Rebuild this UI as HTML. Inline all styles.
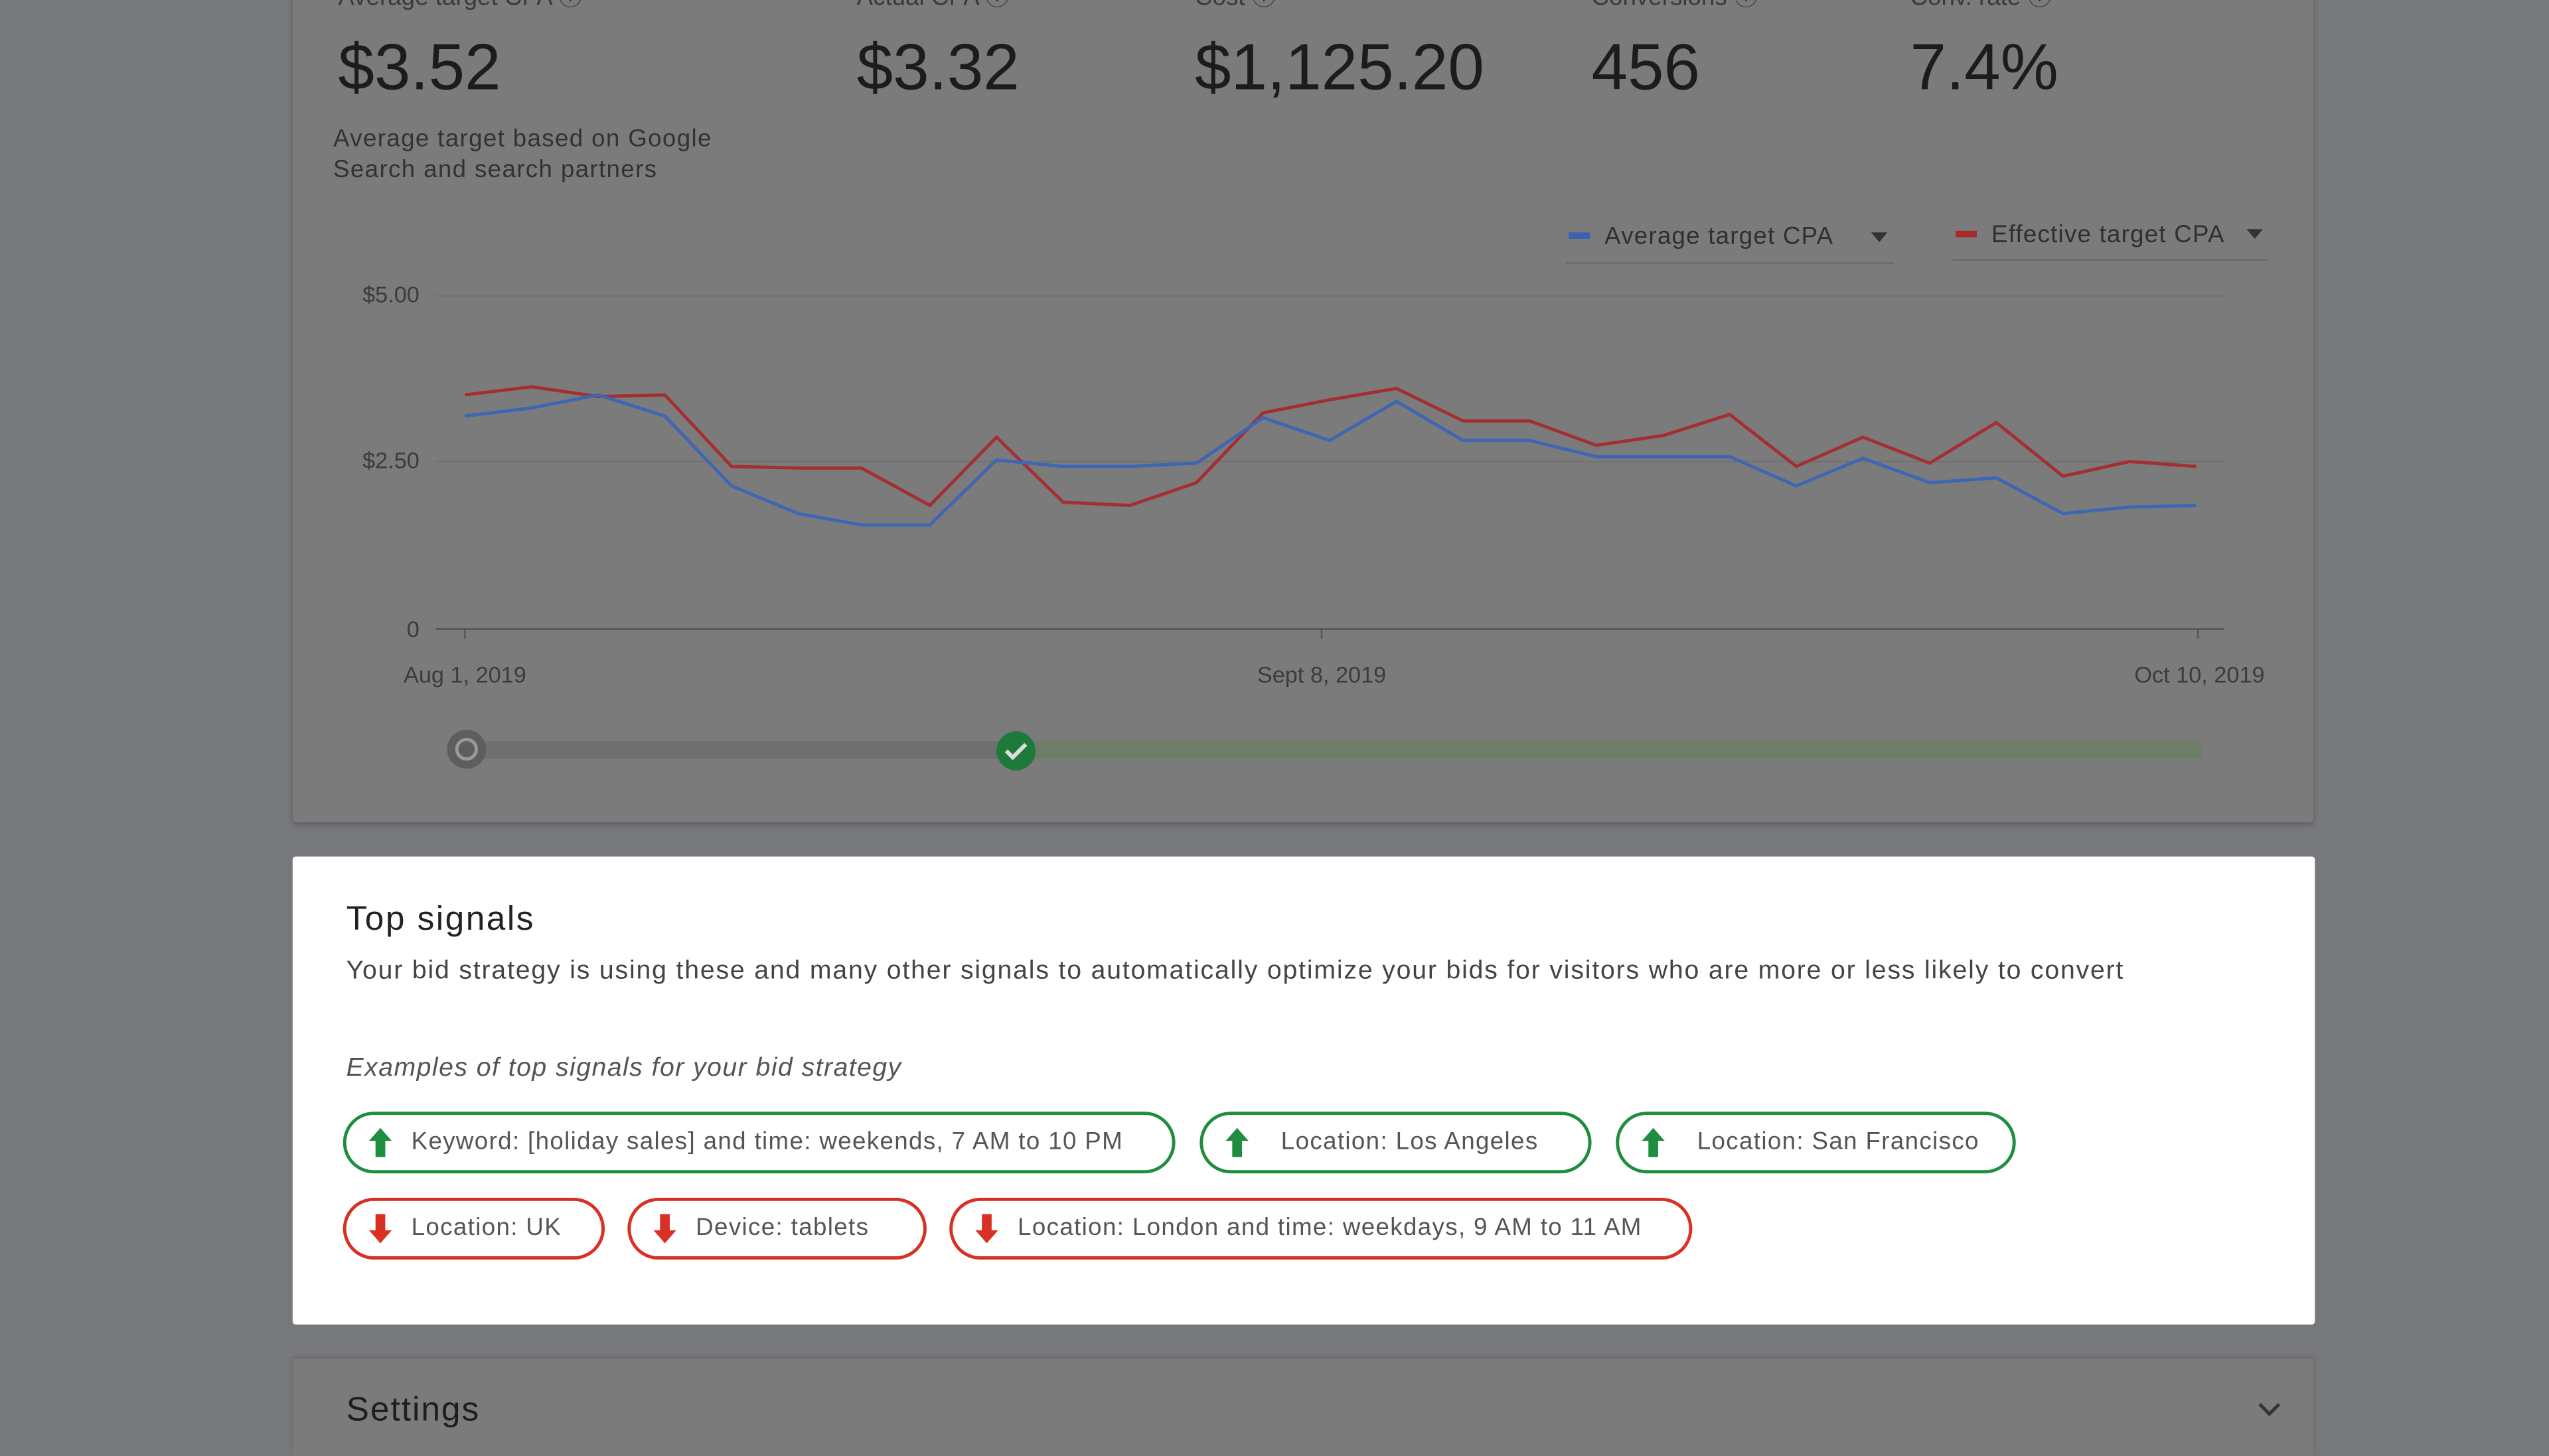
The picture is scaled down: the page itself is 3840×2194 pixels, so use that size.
<!DOCTYPE html>
<html><head><meta charset="utf-8"><style>
html,body{margin:0;padding:0;width:3840px;height:2160px;overflow:hidden;background:#76787b;}
#w{position:absolute;left:0;top:0;width:1568px;height:882px;transform:scale(2.44898);transform-origin:0 0;font-family:"Liberation Sans",sans-serif;}
.a{position:absolute;white-space:nowrap;}
.card1{position:absolute;left:180px;top:-10px;width:1243px;height:516px;background:#7b7b7c;box-shadow:0 1px 3px rgba(0,0,0,.25);border-radius:2px;}
.card2{position:absolute;left:180px;top:527px;width:1244px;height:288px;background:#fff;border-radius:2px;}
.card3{position:absolute;left:180px;top:836px;width:1243px;height:60px;background:#7b7b7c;box-shadow:0 -1px 2px rgba(0,0,0,.15);}
.v{font-size:40px;color:#1c1c1c;top:20px;}
.lbl{font-size:15px;color:#3a3a3a;top:-13px;}
.chip{position:absolute;height:34px;border-radius:19px;box-sizing:border-box;font-size:15px;color:#555;line-height:34px;padding-left:40px;letter-spacing:0.55px;}
.g{border:2px solid #1e8e3e;} .r{border:2px solid #d93025;}
.chip svg{position:absolute;left:14px;top:8px;}
</style></head><body><div id="w">
<div class="card1"></div>
<div class="a lbl" style="left:208px">Average target CPA ⓘ</div>
<div class="a lbl" style="left:527px">Actual CPA ⓘ</div>
<div class="a lbl" style="left:735px">Cost ⓘ</div>
<div class="a lbl" style="left:979px">Conversions ⓘ</div>
<div class="a lbl" style="left:1175px">Conv. rate ⓘ</div>
<div class="a v" style="left:208px">$3.52</div>
<div class="a v" style="left:527px">$3.32</div>
<div class="a v" style="left:735px">$1,125.20</div>
<div class="a v" style="left:979px">456</div>
<div class="a v" style="left:1175px">7.4%</div>
<div class="a" style="left:205px;top:76px;font-size:15px;line-height:19px;color:#333;letter-spacing:0.55px;">Average target based on Google<br>Search and search partners</div>
<svg class="a" style="left:0;top:0" width="1568" height="520">
<g font-family="Liberation Sans" font-size="15" fill="#303030">
<rect x="965" y="143" width="13" height="4" fill="#3b62b0"/>
<text x="987" y="150" letter-spacing="0.5">Average target CPA</text>
<path d="M1151 143h10l-5 6z" fill="#333"/>
<line x1="963" y1="162" x2="1165" y2="162" stroke="#6a6a6a"/>
<rect x="1203" y="142" width="13" height="4" fill="#a52a2a"/>
<text x="1225" y="149" letter-spacing="0.5">Effective target CPA</text>
<path d="M1382 141h10l-5 6z" fill="#333"/>
<line x1="1201" y1="160" x2="1395" y2="160" stroke="#6a6a6a"/>
<text x="258" y="186" text-anchor="end" font-size="14" fill="#3c3c3c">$5.00</text>
<text x="258" y="288" text-anchor="end" font-size="14" fill="#3c3c3c">$2.50</text>
<text x="258" y="392" text-anchor="end" font-size="14" fill="#3c3c3c">0</text>
<text x="286" y="420" text-anchor="middle" font-size="14" fill="#3c3c3c">Aug 1, 2019</text>
<text x="813" y="420" text-anchor="middle" font-size="14" fill="#3c3c3c">Sept 8, 2019</text>
<text x="1353" y="420" text-anchor="middle" font-size="14" fill="#3c3c3c">Oct 10, 2019</text>
</g>
<line x1="268" y1="182" x2="1368" y2="182" stroke="#727272"/>
<line x1="268" y1="284" x2="1368" y2="284" stroke="#727272"/>
<line x1="268" y1="387" x2="1368" y2="387" stroke="#555"/>
<path d="M286 387v6M813 387v6M1352 387v6" stroke="#555"/>
<polyline fill="none" stroke="#a42f33" stroke-width="2" points="286,243 327,238 368,244 409,243 450,287 491,288 530,288 572,311 613,269 654,309 695,311 736,297 777,254 818,246 859,239 900,259 941,259 982,274 1023,268 1064,255 1105,287 1146,269 1187,285 1228,260 1269,293 1310,284 1351,287"/>
<polyline fill="none" stroke="#3e66b3" stroke-width="2" points="286,256 327,251 368,243 409,256 450,299 491,316 530,323 572,323 613,283 654,287 695,287 736,285 777,257 818,271 859,247 900,271 941,271 982,281 1023,281 1064,281 1105,299 1146,282 1187,297 1228,294 1269,316 1310,312 1351,311"/>
<rect x="287" y="456" width="338" height="11" fill="#6e6f71"/>
<rect x="625" y="456" width="729" height="11" fill="#6c7d68"/>
<circle cx="287" cy="461" r="12" fill="#5d5e60"/>
<circle cx="287" cy="461" r="6" fill="none" stroke="#9a9a9a" stroke-width="2"/>
<circle cx="625" cy="462" r="12" fill="#1e7a3a"/>
<path d="M619 462l4 4 8-8" fill="none" stroke="#ddd" stroke-width="2.5"/>
</svg>
<div class="card2"></div>
<div class="a" style="left:213px;top:554px;font-size:21px;color:#222;letter-spacing:1px;">Top signals</div>
<div class="a" style="left:213px;top:589px;font-size:16px;color:#444;letter-spacing:0.75px;">Your bid strategy is using these and many other signals to automatically optimize your bids for visitors who are more or less likely to convert</div>
<div class="a" style="left:213px;top:649px;font-size:16px;color:#555;font-style:italic;letter-spacing:0.6px;">Examples of top signals for your bid strategy</div>
<div class="chip g" style="left:211px;top:684px;width:512px;height:38px;line-height:34px;"><svg width="14" height="18"><path d="M7 0L14 8H10V18H4V8H0Z" fill="#1e8e3e"/></svg>Keyword: [holiday sales] and time: weekends, 7 AM to 10 PM</div>
<div class="chip g" style="left:738px;top:684px;width:241px;height:38px;padding-left:48px;"><svg width="14" height="18"><path d="M7 0L14 8H10V18H4V8H0Z" fill="#1e8e3e"/></svg>Location: Los Angeles</div>
<div class="chip g" style="left:994px;top:684px;width:246px;height:38px;padding-left:48px;"><svg width="14" height="18"><path d="M7 0L14 8H10V18H4V8H0Z" fill="#1e8e3e"/></svg>Location: San Francisco</div>
<div class="chip r" style="left:211px;top:737px;width:161px;height:38px;"><svg width="14" height="18"><path d="M7 18L14 10H10V0H4V10H0Z" fill="#d93025"/></svg>Location: UK</div>
<div class="chip r" style="left:386px;top:737px;width:184px;height:38px;"><svg width="14" height="18"><path d="M7 18L14 10H10V0H4V10H0Z" fill="#d93025"/></svg>Device: tablets</div>
<div class="chip r" style="left:584px;top:737px;width:457px;height:38px;"><svg width="14" height="18"><path d="M7 18L14 10H10V0H4V10H0Z" fill="#d93025"/></svg>Location: London and time: weekdays, 9 AM to 11 AM</div>
<div class="card3"></div>
<div class="a" style="left:213px;top:856px;font-size:21px;color:#1e1e1e;letter-spacing:0.8px;">Settings</div>
<svg class="a" style="left:1388px;top:862px" width="16" height="12"><path d="M2 2l6 6 6-6" fill="none" stroke="#333" stroke-width="2"/></svg>
</div></body></html>
